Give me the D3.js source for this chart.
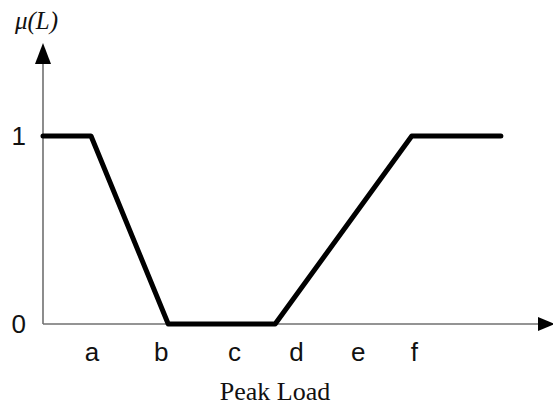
<!DOCTYPE html>
<html>
<head>
<meta charset="utf-8">
<script src="https://cdn.jsdelivr.net/npm/d3@7"></script>
<style>
  body { margin: 0; background: white; }
  svg { display: block; }
</style>
</head>
<body>
<div id="chart"></div>
<script>
var width = 553, height = 408

// membership function breakpoints (x in axis units 0..100, y = membership)
var pointsX = [0, 9.7, 25.3, 46.9, 74.5, 92.5]
var pointsY = [1, 1, 0, 0, 1, 1]

// tick labels under the x axis
var tickLabels = ['a', 'b', 'c', 'd', 'e', 'f']
var tickPos = [9.8, 23.8, 38.6, 51.1, 63.6, 74.9]

var yTicks = [0, 1]

var svg = d3.select('#chart')
  .append('svg')
  .attr('width', width)
  .attr('height', height)

var xScale = d3.scaleLinear()
  .domain([0, 100])
  .range([43, 538])

var yScale = d3.scaleLinear()
  .domain([0, 1])
  .range([324, 136])

var axisColor = '#707070'

// x axis line + arrow
svg.append('line')
  .attr('x1', xScale(0)).attr('x2', xScale(100))
  .attr('y1', yScale(0)).attr('y2', yScale(0))
  .style('stroke', axisColor)
  .style('stroke-width', 1.6)

svg.append('path')
  .attr('d', `M${xScale(100)},${yScale(0) - 7}L${xScale(100) + 17},${yScale(0)}L${xScale(100)},${yScale(0) + 7}Z`)
  .style('fill', 'black')

// y axis line + arrow
svg.append('line')
  .attr('x1', xScale(0)).attr('x2', xScale(0))
  .attr('y1', yScale(0)).attr('y2', 64)
  .style('stroke', axisColor)
  .style('stroke-width', 1.6)

svg.append('path')
  .attr('d', `M${xScale(0) - 8},64L${xScale(0)},43L${xScale(0) + 8},64Z`)
  .style('fill', 'black')

// tick labels a..f
var xAxis = d3.axisBottom(xScale)
  .tickValues(tickPos)
  .tickFormat((d, i) => tickLabels[i])
  .tickSize(0)
  .tickPadding(19)

svg.append('g')
  .attr('class', 'x-axis')
  .attr('transform', `translate(0,${yScale(0)})`)
  .call(xAxis)
  .call(g => g.select('.domain').remove())
  .selectAll('text')
  .style('font-family', '"Liberation Sans", Arial, sans-serif')
  .style('font-size', '26px')
  .style('fill', '#111')

// y labels 0 and 1
var yAxis = d3.axisLeft(yScale)
  .tickValues(yTicks)
  .tickFormat(d3.format('d'))
  .tickSize(0)
  .tickPadding(17)

svg.append('g')
  .attr('class', 'y-axis')
  .attr('transform', `translate(${xScale(0)},0)`)
  .call(yAxis)
  .call(g => g.select('.domain').remove())
  .selectAll('text')
  .style('font-family', '"Liberation Sans", Arial, sans-serif')
  .style('font-size', '26px')
  .style('fill', '#111')

// membership line
var line = d3.line()
  .x((d, i) => xScale(pointsX[i]))
  .y((d, i) => yScale(pointsY[i]))

svg.append('path')
  .attr('d', line(pointsX))
  .style('fill', 'none')
  .style('stroke', 'black')
  .style('stroke-width', 5)
  .style('stroke-linejoin', 'round')
  .style('stroke-linecap', 'round')

// axis titles
svg.append('text')
  .attr('x', 15)
  .attr('y', 29)
  .text('μ(L)')
  .style('font-family', '"Liberation Serif", "Times New Roman", serif')
  .style('font-style', 'italic')
  .style('font-size', '25px')
  .style('fill', '#111')

svg.append('text')
  .attr('x', 275)
  .attr('y', 400)
  .attr('text-anchor', 'middle')
  .text('Peak Load')
  .style('font-family', '"Liberation Serif", "Times New Roman", serif')
  .style('font-size', '26px')
  .style('fill', '#111')
</script>
</body>
</html>
